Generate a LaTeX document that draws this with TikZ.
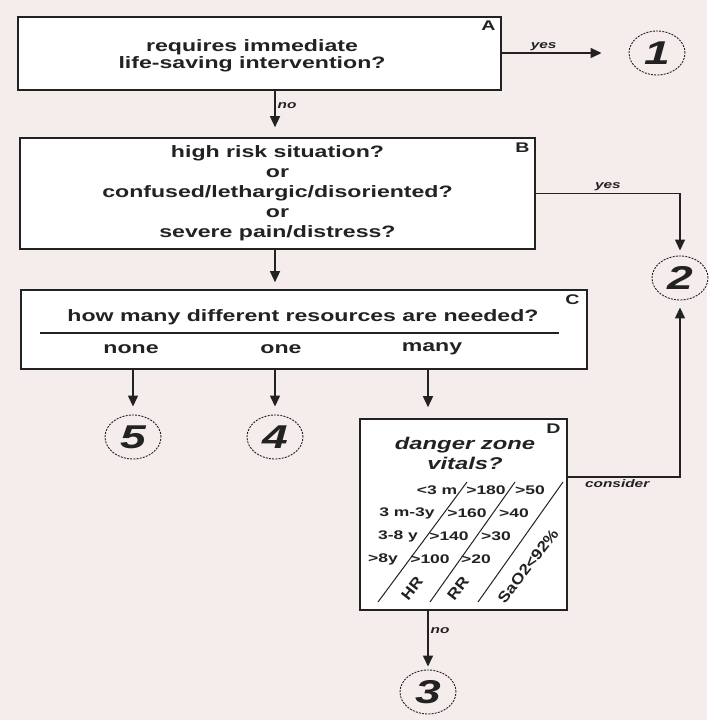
\documentclass[tikz,border=0pt]{standalone}
\usepackage{fontspec}
\setmainfont[FakeStretch=1.4]{Liberation Sans}
\newfontfamily\tiltfont[FakeStretch=1.15]{Liberation Sans}
\usetikzlibrary{arrows.meta,positioning,shapes.geometric}
\definecolor{paper}{HTML}{F5ECEC}
\definecolor{ink}{HTML}{222222}
\tikzset{
  box/.style ={draw=ink, line width=1.6pt, fill=white, inner sep=0pt},
  ask/.style ={font=\fontsize{16.5}{20}\selectfont\bfseries, text=ink, align=center},
  tag/.style ={font=\fontsize{14}{14}\selectfont\bfseries, text=ink, inner sep=0pt},
  term/.style ={draw=ink, ellipse, dash pattern=on 2pt off 1.2pt, line width=0.9pt,
    minimum width=56pt, minimum height=44pt, inner sep=0pt,
    font=\fontsize{33}{33}\selectfont\bfseries\itshape, text=ink},
  answer/.style ={font=\fontsize{11}{11}\selectfont\bfseries\itshape, text=ink, inner sep=2pt},
  vital/.style ={font=\fontsize{12.5}{12.5}\selectfont\bfseries, text=ink, inner sep=0pt},
  axis/.style ={font=\fontsize{15}{15}\tiltfont\bfseries, text=ink, inner sep=0pt, rotate=52},
  line/.style ={draw=ink, line width=1.4pt, -{Triangle[length=11pt,width=10pt]}}
}
\begin{document}
\begin{tikzpicture}[x=1pt,y=-1pt]
  \fill[paper] (0,0) rectangle (707,720);
  % endpoints
  \node[term] (t1) at (657,53) {1};
  \node[term] (t2) at (680,278) {2};
  \node[term] (t5) at (133,437) {5};
  \node[term] (t4) at (275,437) {4};
  \node[term] (t3) at (428,692) {3};
  % question boxes
  \node[box, minimum width=483pt, minimum height=73pt] (A) at (259.5,53.5) {};
  \node[ask, font=\fontsize{16.5}{17}\selectfont\bfseries] (Aq) at (252,56)
    {requires immediate\\life-saving intervention?};
  \node[box, ask, minimum width=515pt, minimum height=111pt] (B) at (277.5,193.5)
    {high risk situation?\\or\\confused/lethargic/disoriented?\\or\\severe pain/distress?};
  \node[box, minimum width=566pt, minimum height=79pt] (C) at (304,329.5) {};
  \node[box, minimum width=207pt, minimum height=191pt] (D) at (463.5,514.5) {};
  \node[tag, anchor=north east] at ([shift={(-6,4)}]A.north east) {A};
  \node[tag, anchor=north east] at ([shift={(-6,5)}]B.north east) {B};
  \node[tag, anchor=north east] at ([shift={(-8,5)}]C.north east) {C};
  \node[tag, anchor=north east] at ([shift={(-7,5)}]D.north east) {D};
  % C contents
  \node[ask] (cq) at (303,317) {how many different resources are needed?};
  \draw[ink, line width=1.3pt] (40,333) -- (559,333);
  \node[ask] (none) at (131,349) {none};
  \node[ask] (one) at (281,349) {one};
  \node[ask] (many) at (432,349) {many};
  % D contents
  \node[ask, font=\fontsize{17}{20}\selectfont\bfseries\itshape] (dz) at (465,453)
    {danger zone\\vitals?};
  \node[vital] at (437,490) {<3 m};
  \node[vital] at (486,490) {>180};
  \node[vital] at (530,490) {>50};
  \node[vital] at (407,513) {3 m-3y};
  \node[vital] at (467,513) {>160};
  \node[vital] at (514,513) {>40};
  \node[vital] at (398,536) {3-8 y};
  \node[vital] at (449,536) {>140};
  \node[vital] at (496,536) {>30};
  \node[vital] at (383,559) {>8y};
  \node[vital] at (430,559) {>100};
  \node[vital] at (476,559) {>20};
  \draw[ink, line width=1pt] (467,482) -- (378,602);
  \draw[ink, line width=1pt] (515,482) -- (430,602);
  \draw[ink, line width=1pt] (563,482) -- (478,602);
  \node[axis] at (412,588) {HR};
  \node[axis] at (458,588) {RR};
  \node[axis] at (528,566) {SaO2<92\%};
  % connectors
  \coordinate (cz) at (567,477);
  \draw[line, shorten >=27pt] (A.east |- t1) -- node[answer, above, pos=0.33] {yes} (t1.west);
  \draw[line, shorten >=10pt] (A.south -| t4) -- node[answer, right, pos=0.31] {no} (B.north -| t4);
  \draw[line, shorten >=5pt] (B.east) -| node[answer, above, pos=0.25] {yes} (t2.north);
  \draw[line, shorten >=7pt] (B.south -| t4) -- (C.north -| t4);
  \draw[line, shorten >=8pt] (C.south -| t5) -- (t5.north);
  \draw[line, shorten >=8pt] (C.south -| t4) -- (t4.north);
  \draw[line, shorten >=11pt] (C.south -| t3) -- (D.north -| t3);
  \draw[line, shorten >=3pt] (D.south -| t3) -- node[answer, right, pos=0.33] {no} (t3.north);
  \draw[line, shorten >=7pt] (D.east |- cz) -| node[answer, below, pos=0.22] {consider} (t2.south);
\end{tikzpicture}
\end{document}
